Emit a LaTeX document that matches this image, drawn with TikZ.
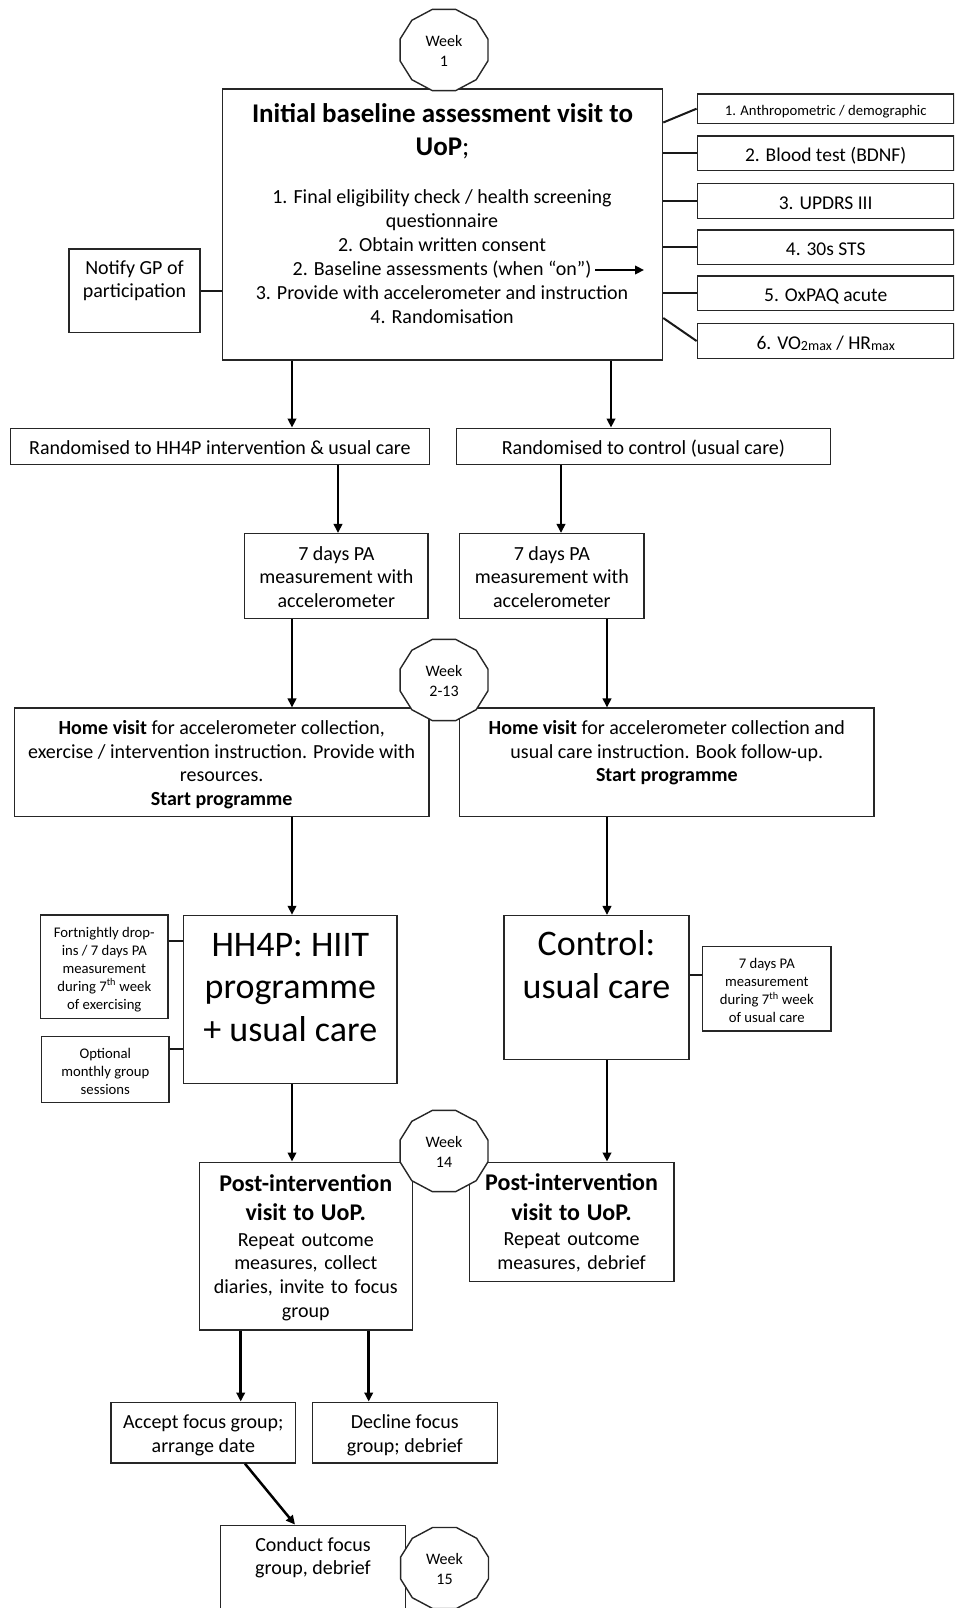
\documentclass[tikz,border=0pt]{standalone}
\usepackage{fontspec}
\setmainfont{Carlito}
\usetikzlibrary{arrows.meta,calc}
\newcommand\lowsm[1]{\raisebox{-1.5pt}{\fontsize{14}{14}\selectfont #1}}
\newcommand\tp{\rule{0pt}{\dimexpr0.7\baselineskip+6pt\relax}}
\tikzset{
  box/.style={draw=black!85, line width=1.5pt, inner sep=0pt, align=center,
    execute at begin node={\rule{0pt}{\dimexpr0.7\baselineskip+7pt\relax}}, execute at end node=\strut},
  txt/.style={inner sep=0pt, align=center, anchor=north,
    execute at begin node=\strut, execute at end node=\strut},
  f20/.style={font=\fontsize{20}{23.7}\selectfont},
  f195/.style={font=\fontsize{19.5}{23}\selectfont},
  f15/.style={font=\fontsize{14.7}{18}\selectfont},
  fbig/.style={font=\fontsize{36}{42.5}\selectfont},
  wkl/.style={draw=black!85, fill=white, line width=1.4pt},
  wkt/.style={inner sep=0pt, align=center, font=\fontsize{16}{20}\selectfont},
  ln/.style={line width=2pt, draw=black!90},
  arr/.style={line width=2.5pt, draw=black, -{Triangle[length=9pt,width=8.5pt]}},
}
\newcommand\dodec[1]{\filldraw[wkl] ($(#1)+(15:45.5pt and 42pt)$)
  \foreach \a in {45,75,...,345}{ -- ($(#1)+(\a:45.5pt and 42pt)$)} -- cycle;}
\begin{document}
\begin{tikzpicture}[x=1pt,y=-1pt]
\useasboundingbox (0,0) rectangle (954,1608);
\clip (0,0) rectangle (954,1608);
\fill[white] (0,0) rectangle (954,1608);

% main box
\node[box, minimum width=440pt, minimum height=270.7pt] (main) at (442.5,224.6) {};
\node[txt, font=\fontsize{27}{33.5}\selectfont\bfseries] (mainTitle) at (442.5,103)
  {Initial baseline assessment visit to\\ UoP{\mdseries;}};
\node[txt, font=\fontsize{20}{24}\selectfont] (mainBody) at (442,189)
  {1. Final eligibility check / health screening\\ questionnaire\\ 2. Obtain written consent\\
   2. Baseline assessments (when “on”)\\ 3. Provide with accelerometer and instruction\\ 4. Randomisation};
\coordinate (ba1) at (595,270);
\coordinate (ba2) at (644,270);
\draw[arr, line width=2.6pt] (ba1) -- (ba2);

% measurement boxes
\node[box, f15, minimum width=256.7pt, minimum height=29.3pt] (m1) at (825.7,108.7) {1. Anthropometric / demographic};
\node[box, f195, minimum width=256.7pt, minimum height=34.5pt] (m2) at (825.7,153.3) {2. Blood test (BDNF)};
\node[box, f195, minimum width=256.7pt, minimum height=34.5pt] (m3) at (825.7,201) {3. UPDRS III};
\node[box, f195, minimum width=256.7pt, minimum height=34.5pt] (m4) at (825.7,247.2) {4. 30s STS};
\node[box, f195, minimum width=256.7pt, minimum height=34.5pt] (m5) at (825.7,293) {5. OxPAQ acute};
\node[box, f195, minimum width=256.7pt, minimum height=35.4pt] (m6) at (825.7,341) {6. VO\lowsm{2max} / HR\lowsm{max}};

\draw[ln] ([yshift=-34pt]main.north east) -- (m1.west);
\foreach \n in {m2,m3,m4,m5} \draw[ln] (\n.west -| main.east) -- (\n.west);
\draw[ln] ([yshift=42.7pt]main.south east) -- (m6.west);

% notify
\node[box, minimum width=131pt, minimum height=83.7pt] (notify) at (134.5,290.8) {};
\node[txt, font=\fontsize{20}{23.5}\selectfont] (notifyT) at (134.5,260) {Notify GP of\\ participation};
\draw[ln] (notify.east) -- (notify.east -| main.west);

% randomised
\node[box, f20, minimum width=419.2pt, minimum height=36pt] (randL) at (219.9,446.3) {Randomised to HH4P intervention \& usual care};
\node[box, f20, minimum width=374.2pt, minimum height=36pt] (randR) at (643.4,446.3) {Randomised to control (usual care)};

% 7 days PA
\node[box, f20, minimum width=183.5pt, minimum height=85pt] (paL) at (336.3,576.2) {\tp 7 days PA\\ measurement with\\ accelerometer};
\node[box, f20, minimum width=184.5pt, minimum height=85pt] (paR) at (551.8,576.2) {\tp 7 days PA\\ measurement with\\ accelerometer};

% home visits
\node[box, minimum width=414.4pt, minimum height=108.4pt] (hvL) at (221.7,762.4) {};
\node[box, minimum width=414.4pt, minimum height=108.4pt] (hvR) at (666.8,762.4) {};
\node[txt, f20] (hvLT) at (221.7,720.3) {\textbf{Home visit} for accelerometer collection,\\ exercise / intervention instruction. Provide with\\ resources.\\ \textbf{Start programme}};
\node[txt, f20] (hvRT) at (666.8,720.3) {\textbf{Home visit} for accelerometer collection and\\ usual care instruction. Book follow-up.\\ \textbf{Start programme}};

% programmes
\node[box, minimum width=213.7pt, minimum height=167.8pt] (hh4p) at (290.3,999.4) {};
\node[txt, fbig] (hh4pT) at (290.3,932.9) {HH4P: HIIT\\ programme\\ + usual care};
\node[box, f15, minimum width=127.3pt, minimum height=103.3pt] (fort) at (104.3,966.6) {\tp Fortnightly drop-\\ ins / 7 days PA\\ measurement\\ during 7\textsuperscript{th} week\\ of exercising};
\node[box, f15, minimum width=127.3pt, minimum height=66pt] (opt) at (105.3,1069.7) {\tp Optional\\ monthly group\\ sessions};
\coordinate (f1) at ([yshift=-26.7pt]fort.north east);
\coordinate (f2) at ([yshift=-12.6pt]opt.north east);
\draw[ln] (f1) -- (f1 -| hh4p.west);
\draw[ln] (f2) -- (f2 -| hh4p.west);

\node[box, minimum width=185pt, minimum height=143.6pt] (ctrl) at (596.5,987.5) {};
\node[txt, fbig] (ctrlT) at (596.5,930.4) {Control:\\ usual care};
\node[box, f15, minimum width=128.3pt, minimum height=84.3pt] (paR2) at (766.8,988.8) {\tp 7 days PA\\ measurement\\ during 7\textsuperscript{th} week\\ of usual care};
\coordinate (f3) at ([yshift=-29.3pt]paR2.north west);
\draw[ln] (f3) -- (f3 -| ctrl.east);

% post-intervention
\node[box, f20, text width=205pt, minimum width=213pt, minimum height=167.7pt] (postL) at (305.8,1246.1)
  {{\fontsize{24}{29.3}\selectfont\bfseries Post-intervention\\ visit to UoP.\par}\vspace{1.5pt}Repeat outcome\\ measures, collect\\ diaries, invite to focus\\ group};
\node[box, f20, text width=197pt, minimum width=204.7pt, minimum height=119pt] (postR) at (571.6,1221.8)
  {{\fontsize{24}{29.3}\selectfont\bfseries Post-intervention\\ visit to UoP.\par}\vspace{1.5pt}Repeat outcome\\ measures, debrief};

% focus group
\node[box, f20, minimum width=184.7pt, minimum height=60.7pt] (accept) at (203.3,1432.6) {\tp Accept focus group;\\ arrange date};
\node[box, f20, minimum width=185pt, minimum height=60.7pt] (decline) at (404.8,1432.6) {\tp Decline focus\\ group; debrief};
\node[box, minimum width=184.6pt, minimum height=114.6pt] (conduct) at (313,1582.6) {};
\node[txt, f20] (conductT) at (313,1537) {Conduct focus\\ group, debrief};

% arrows
\coordinate (xa) at (292,0);
\coordinate (xb) at (611,0);
\coordinate (xc) at (338,0);
\coordinate (xd) at (561,0);
\coordinate (xe) at (607,0);
\coordinate (xf) at (240.7,0);
\coordinate (xg) at (368.7,0);
\draw[arr] (main.south -| xa) -- (randL.north -| xa);
\draw[arr] (main.south -| xb) -- (randR.north -| xb);
\draw[arr] (randL.south -| xc) -- (paL.north -| xc);
\draw[arr] (randR.south -| xd) -- (paR.north -| xd);
\draw[arr] (paL.south -| xa) -- (hvL.north -| xa);
\draw[arr] (paR.south -| xe) -- (hvR.north -| xe);
\draw[arr] (hvL.south -| xa) -- (hh4p.north -| xa);
\draw[arr] (hvR.south -| xe) -- (ctrl.north -| xe);
\draw[arr] (hh4p.south -| xa) -- (postL.north -| xa);
\draw[arr] (ctrl.south -| xe) -- (postR.north -| xe);
\draw[arr] (postL.south -| xf) -- (accept.north -| xf);
\draw[arr] (postL.south -| xg) -- (decline.north -| xg);
\draw[arr] ([xshift=41.7pt]accept.south) -- ([xshift=-18pt]conduct.north);

% week markers
\coordinate (w1) at (444,50);
\coordinate (w2) at (444,680);
\coordinate (w3) at (444,1151);
\coordinate (w4) at (444.5,1568);
\dodec{w1}\dodec{w2}\dodec{w3}\dodec{w4}
\node[wkt] (w1t) at ([yshift=-1pt]w1) {Week\\ 1};
\node[wkt] (w2t) at ([yshift=-1pt]w2) {Week\\ 2-13};
\node[wkt] (w3t) at ([yshift=-1pt]w3) {Week\\ 14};
\node[wkt] (w4t) at ([yshift=-1pt]w4) {Week\\ 15};
\end{tikzpicture}
\end{document}
